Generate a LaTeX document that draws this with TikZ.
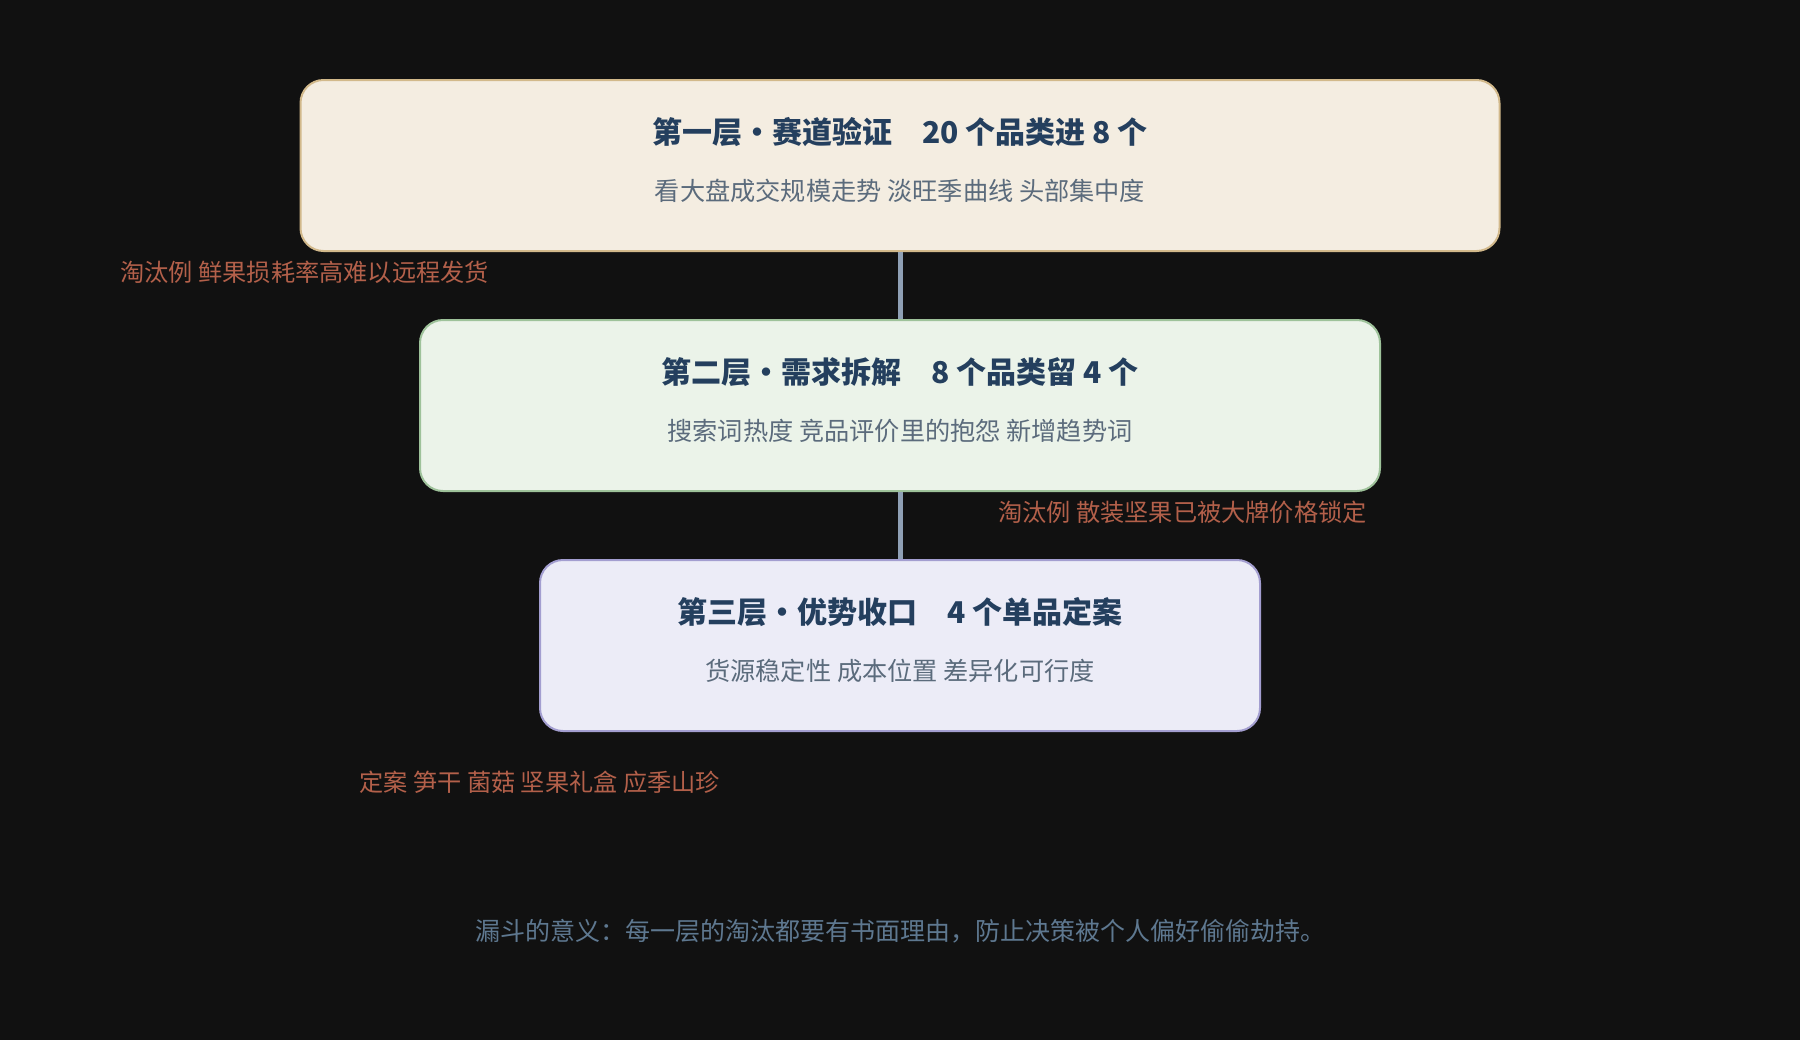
\documentclass[tikz,border=0pt]{standalone}
\usepackage{fontspec}
\newfontfamily\cjk{Noto Sans CJK SC}
\definecolor{bgBlack}{HTML}{111111}
\definecolor{sandFill}{HTML}{F4EDE1}
\definecolor{sandLine}{HTML}{D2B98B}
\definecolor{sageFill}{HTML}{EBF3E9}
\definecolor{sageLine}{HTML}{9EC29A}
\definecolor{lilacFill}{HTML}{ECECF7}
\definecolor{lilacLine}{HTML}{A39ED0}
\definecolor{headBlue}{HTML}{243F5E}
\definecolor{subGray}{HTML}{5B6B7C}
\definecolor{cutRed}{HTML}{B3604A}
\definecolor{noteGray}{HTML}{5E7890}
\definecolor{linkGray}{HTML}{8FA0B5}
\begin{document}
\begin{tikzpicture}
    [x=0.5pt, y=-0.5pt,
     tier/.style={draw, rounded corners=11.5pt, line width=1pt,
       minimum height=85.5pt, inner sep=0pt},
     head/.style={text=headBlue, font=\cjk\bfseries\fontsize{15}{17}\selectfont},
     sub/.style={text=subGray, font=\cjk\fontsize{12.6}{14}\selectfont},
     cut/.style={text=cutRed, inner sep=0pt, font=\cjk\fontsize{12.1}{14}\selectfont},
     link/.style={draw=linkGray, line width=2.5pt}]
    \def \cx {900} % centre line of the funnel, in px

    \fill[bgBlack] (0,0) rectangle (1800,1040);
    \useasboundingbox (0,0) rectangle (1800,1040);

    \foreach \id/\y/\w/\fc/\dc/\hd/\sb in
      {tier1/165.5/599.5pt/sandFill/sandLine/第一层·赛道验证\quad 20 个品类进 8 个/看大盘成交规模走势 淡旺季曲线 头部集中度,
       tier2/405.5/480pt/sageFill/sageLine/第二层·需求拆解\quad 8 个品类留 4 个/搜索词热度 竞品评价里的抱怨 新增趋势词,
       tier3/645.5/360pt/lilacFill/lilacLine/第三层·优势收口\quad 4 个单品定案/货源稳定性 成本位置 差异化可行度}
    {
      \node[tier, fill=\fc, draw=\dc, minimum width=\w] (\id) at (\cx,\y) {};
      \node[head] (\id head) at ([yshift=16.5pt]\id.center) {\hd};
      \node[sub] (\id sub) at ([yshift=-12.5pt]\id.center) {\sb};
    }

    \draw[link] (tier1) -- (tier2);
    \draw[link] (tier2) -- (tier3);

    \node[cut, anchor=west] (cut1) at (120,272) {淘汰例 鲜果损耗率高难以远程发货};
    \node[cut, anchor=east] (cut2) at (1367,512) {淘汰例 散装坚果已被大牌价格锁定};
    \node[cut, anchor=west] (final) at (359,782) {定案 笋干 菌菇 坚果礼盒 应季山珍};

    \node[text=noteGray, font=\cjk\fontsize{12.5}{14}\selectfont] (note) at (\cx,931)
      {漏斗的意义：每一层的淘汰都要有书面理由，防止决策被个人偏好偷偷劫持。};
\end{tikzpicture}
\end{document}
